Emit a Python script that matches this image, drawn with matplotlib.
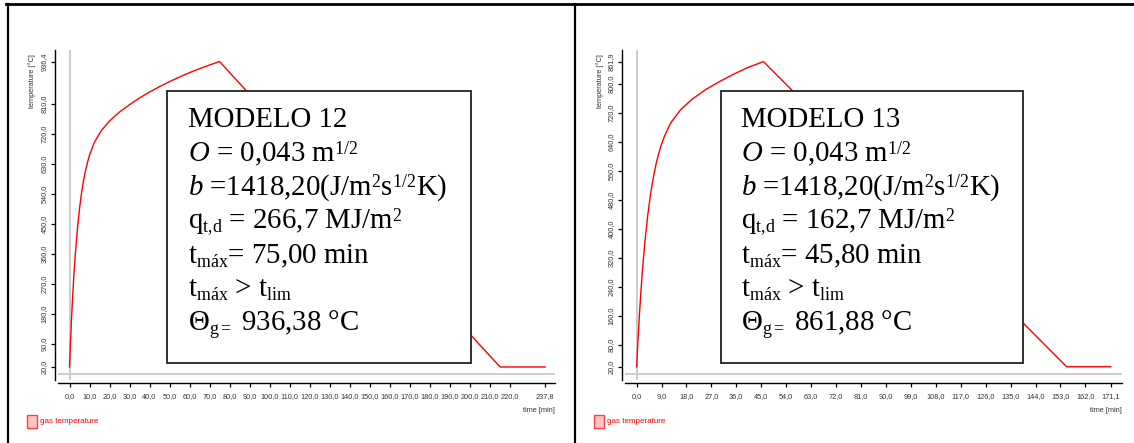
import matplotlib
matplotlib.use("Agg")
import matplotlib.pyplot as plt
from matplotlib.patches import Rectangle
from matplotlib.lines import Line2D

plt.rcParams["mathtext.fontset"] = "custom"
plt.rcParams["mathtext.rm"] = "Liberation Serif"
plt.rcParams["mathtext.it"] = "Liberation Serif:italic"
plt.rcParams["mathtext.bf"] = "Liberation Serif:bold"
try:
    import matplotlib._mathtext as _mt
    _mt.SHRINK_FACTOR = 0.62
    _mt.FontConstantsBase.sup1 = 0.52
except Exception:
    pass

# ---------------- data ----------------
# MODELO 12
time12 = [0, 0.5, 1, 1.5, 2, 2.5, 3, 4, 5, 6, 7, 8, 9, 10, 12, 13, 16, 20, 25,
          30, 35, 40, 45, 50, 55, 60, 65, 70, 75, 215.3, 237.8]
temp12 = [20, 95, 163, 222, 276, 323, 366, 437, 495, 541, 579, 609, 634, 655,
          688, 700, 730, 758, 785, 807, 827, 845, 861, 876, 890, 903, 915,
          926, 936.38, 20, 20]
xticks12 = [0, 10, 20, 30, 40, 50, 60, 70, 80, 90, 100, 110, 120, 130, 140,
            150, 160, 170, 180, 190, 200, 210, 220, 237.8]
yticks12 = [20, 90, 180, 270, 360, 450, 540, 630, 720, 810, 936.4]

# MODELO 13
time13 = [0, 0.5, 1, 1.5, 2, 2.5, 3, 4, 5, 6, 7, 8, 9, 10, 12, 13, 16, 20, 25,
          30, 35, 40, 45.8, 155.2, 171.1]
temp13 = [20, 95, 163, 222, 276, 323, 366, 437, 495, 541, 579, 609, 634, 655,
          688, 700, 730, 758, 785, 807, 827, 845, 861.88, 20, 20]
xticks13 = [0, 9, 18, 27, 36, 45, 54, 63, 72, 81, 90, 99, 108, 117, 126, 135,
            144, 153, 162, 171.1]
yticks13 = [20, 80, 160, 240, 320, 400, 480, 560, 640, 720, 800, 861.9]

box12 = ["MODELO 12",
         r"$O$ = 0,043 m$^{1/2}$",
         r"$b$ =1418,20(J/m$^{2}$s$^{1/2}$K)",
         r"q$_{\mathrm{t{,}d}}$ = 266,7 MJ/m$^{2}$",
         r"t$_{\mathrm{máx}}$= 75,00 min",
         r"t$_{\mathrm{máx}}$ > t$_{\mathrm{lim}}$",
         r"Θ$_{\mathrm{g{=}}}$ 936,38 °C"]
box13 = ["MODELO 13",
         r"$O$ = 0,043 m$^{1/2}$",
         r"$b$ =1418,20(J/m$^{2}$s$^{1/2}$K)",
         r"q$_{\mathrm{t{,}d}}$ = 162,7 MJ/m$^{2}$",
         r"t$_{\mathrm{máx}}$= 45,80 min",
         r"t$_{\mathrm{máx}}$ > t$_{\mathrm{lim}}$",
         r"Θ$_{\mathrm{g{=}}}$ 861,88 °C"]

W, H = 1134, 443
fig = plt.figure(figsize=(W / 100, H / 100), dpi=100)


def fx(x):
    return x / W


def fy(y):
    return 1 - y / H


def fmt(v):
    return f"{v:.1f}".replace(".", ",")


TICKFONT = "Liberation Sans"


def make_panel(left_px, right_px, xlim, ylim, t, T, xt, yt, lines,
               box_px, text_x, ylab_x, leg_x, xlabel_right):
    ax = fig.add_axes([fx(left_px), fy(380), (right_px - left_px) / W, 330 / H])
    ax.set_xlim(*xlim)
    ax.set_ylim(*ylim)
    for s in ("top", "right"):
        ax.spines[s].set_visible(False)
    for s in ("left", "bottom"):
        ax.spines[s].set_position(("outward", 2.2))
        ax.spines[s].set_linewidth(1.0)
    ax.axhline(0, color="#cccccc", lw=1.4, zorder=1)
    ax.axvline(0, color="#cccccc", lw=1.4, zorder=1)
    ax.plot(t, T, color="#ff0000", lw=1.0, zorder=3)
    ax.set_xticks(xt)
    ax.set_xticklabels([fmt(v) for v in xt], fontfamily=TICKFONT)
    ax.set_yticks(yt)
    ax.set_yticklabels([fmt(v) for v in yt], fontfamily=TICKFONT,
                       rotation=90, va="center")
    ax.tick_params(axis="both", labelsize=5.3, length=3, width=0.9,
                   color="black", labelcolor="#333333")
    ax.tick_params(axis="x", pad=4)
    ax.tick_params(axis="y", pad=2.4)
    # axis labels
    fig.text(fx(xlabel_right), fy(410), "time [min]", ha="right", va="center",
             fontsize=5.3, color="#333333", fontfamily=TICKFONT)
    fig.text(fx(ylab_x), fy(81), "temperature [°C]", ha="center", va="center",
             rotation=90, fontsize=5.3, color="#333333", fontfamily=TICKFONT)
    # legend
    fig.add_artist(Rectangle((fx(leg_x), fy(428)), 10 / W, 13 / H,
                             transform=fig.transFigure, facecolor="#ffc4c4",
                             edgecolor="#ff4040", lw=1.0))
    fig.text(fx(leg_x + 13), fy(421.5), "gas temperature", ha="left",
             va="center", fontsize=5.8, color="#ff0000", fontfamily=TICKFONT)
    # text box
    bx0, by0, bx1, by1 = box_px
    fig.add_artist(Rectangle((fx(bx0), fy(by1)), (bx1 - bx0) / W,
                             (by1 - by0) / H, transform=fig.transFigure,
                             facecolor="white", edgecolor="#222222", lw=1.3,
                             zorder=5))
    for i, s in enumerate(lines):
        fig.text(fx(text_x), fy(127 + i * 34), s, ha="left", va="baseline",
                 fontsize=20.8, fontfamily="Liberation Serif", color="black",
                 zorder=6)
    return ax


make_panel(58, 555, (-5.75, 242.75), (-19, 971), time12, temp12, xticks12,
           yticks12, box12, (167.3, 91, 470.7, 362.7), 188, 32, 27, 555)
make_panel(625, 1121.7, (-4.2, 175.1), (-16.6, 893.8), time13, temp13,
           xticks13, yticks13, box13, (720.7, 90.7, 1023.3, 362.7), 741, 600,
           594, 1122)

# outer table frame
fig.add_artist(Line2D([fx(6), fx(1134)], [fy(4), fy(4)],
                      transform=fig.transFigure, color="black", lw=2.0))
fig.add_artist(Line2D([fx(7.5), fx(7.5)], [fy(4), fy(443)],
                      transform=fig.transFigure, color="black", lw=1.6))
fig.add_artist(Line2D([fx(575), fx(575)], [fy(4), fy(443)],
                      transform=fig.transFigure, color="black", lw=1.6))

fig.savefig("out.png", dpi=100, facecolor="white")
